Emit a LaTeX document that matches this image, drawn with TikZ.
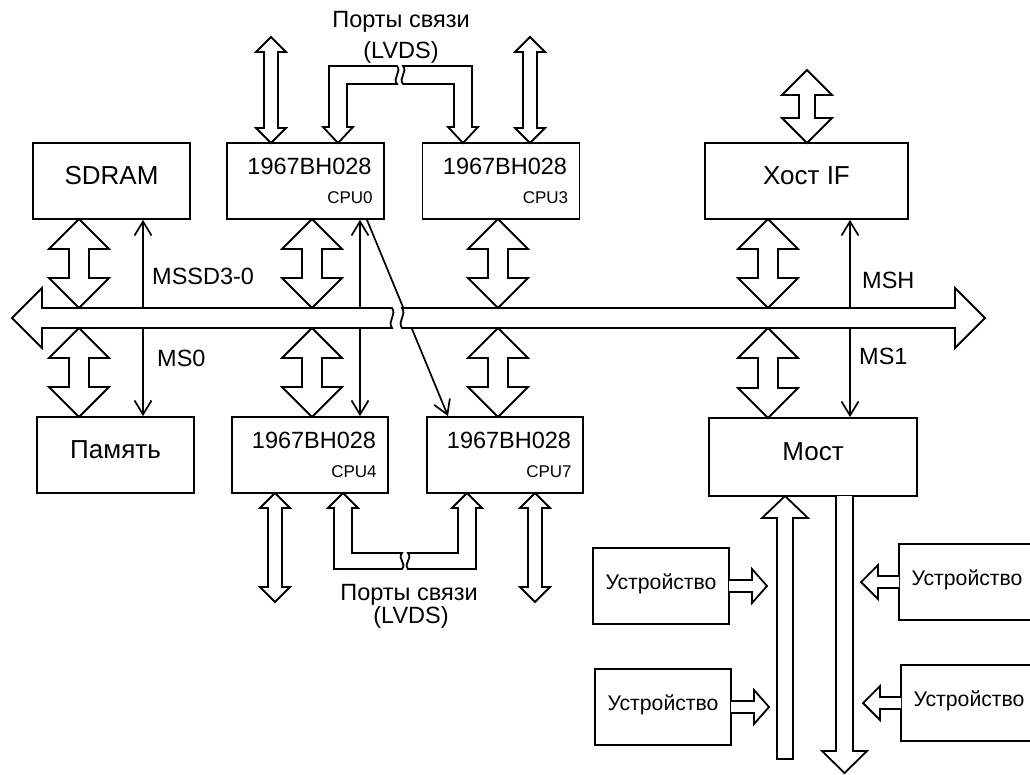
\documentclass[tikz,border=0pt]{standalone}
\usepackage{fontspec}
\setmainfont{Liberation Sans}
\usetikzlibrary{arrows.meta,calc}

\newcommand{\fbig}{\fontsize{26}{30}\selectfont}
\newcommand{\fmid}{\fontsize{23.5}{27}\selectfont}
\newcommand{\fcpu}{\fontsize{17}{20}\selectfont}
\newcommand{\fdev}{\fontsize{21.2}{24}\selectfont}

% hollow double arrow: x, top tip, bottom tip, head, shaft half
\newcommand{\dbl}[5]{%
  \draw[fat] (#1,#2) -- ++(#4,#4) -- ++(-#4+#5,0) -- (#1+#5,#3-#4) -- ++(#4-#5,0)
    -- (#1,#3) -- ++(-#4,-#4) -- ++(#4-#5,0) -- (#1-#5,#2+#4) -- ++(-#4+#5,0) -- cycle;}

\tikzset{
  box/.style={draw, line width=1.8pt, inner sep=0pt, minimum width=157pt,
    minimum height=76pt, text height=0.72em, text depth=0pt, font=\fbig},
  devbox/.style={box, minimum width=136pt, font=\fdev},
  fat/.style={draw, fill=white, line width=1.8pt, line join=miter},
  barb/.tip={Straight Barb[length=14pt,width=17pt]},
  link/.style={line width=1.7pt, -barb},
  lab/.style={inner sep=0pt, font=\fmid},
}

\begin{document}
\begin{tikzpicture}[x=1pt,y=-1pt]
    \useasboundingbox (0,0) rectangle (1030,774);
    \clip (0,0) rectangle (1030,774);

    % blocks
    \node[box] (sdram) at (111.5,181) {SDRAM};
    \node[box] (cpu0) at (305.5,181) {};
    \node[box] (cpu3) at (501,181) {};
    \node[box, minimum width=203pt] (host) at (806.5,181) {Хост IF};
    \node[box] (mem) at (115.5,455) {Память};
    \node[box, minimum width=156pt] (cpu4) at (310,455) {};
    \node[box, minimum width=156pt] (cpu7) at (505,455) {};
    \node[box, minimum width=208pt, minimum height=78pt] (bridge) at (813,457) {Мост};
    \node[devbox] (dev1) at (661,586) {Устройство};
    \node[devbox] (dev2) at (663,707) {Устройство};
    \node[devbox] (dev3) at (967,582) {Устройство};
    \node[devbox] (dev4) at (969,703) {Устройство};

    \foreach \c/\n in {cpu0/0,cpu3/3,cpu4/4,cpu7/7} {
        \node[anchor=base, font=\fmid, inner sep=0pt] at ($(\c.north)+(4,32)$) {1967BH028};
        \node[anchor=base east, font=\fcpu, inner sep=0pt] at ($(\c.south east)+(-12,-16)$) {CPU\n};
    }

    % select lines
    \coordinate (bt) at (0,308);
    \coordinate (bb) at (0,328);
    \coordinate (xa) at (143,0);
    \coordinate (xb) at (360,0);
    \coordinate (xc) at (367,0);
    \coordinate (xd) at (448,0);
    \coordinate (xe) at (850,0);
    \draw[link] (xa |- bt) -- (xa |- sdram.south);
    \draw[link] (xa |- bb) -- (xa |- mem.north);
    \draw[link, barb-barb] (xb |- cpu0.south) -- (xb |- cpu4.north);
    \draw[link] (xc |- cpu0.south) -- (xd |- cpu7.north);
    \draw[link] (xe |- bt) -- (xe |- host.south);
    \draw[link] (xe |- bb) -- (xe |- bridge.north);

    % bus
    \draw[fat] (12,318) -- (42,288) -- (42,308) -- (392,308)
        .. controls (397,315) and (387,321) .. (392,328) -- (42,328) -- (42,348) -- cycle;
    \draw[fat] (402,308) -- (955,308) -- (955,288) -- (985,318) -- (955,348) -- (955,328)
        -- (402,328) .. controls (397,321) and (407,315) .. (402,308) -- cycle;

    \node[lab, anchor=west] at (152,276) {MSSD3-0};
    \node[lab, anchor=west] at (157,358.5) {MS0};
    \node[lab, anchor=west] at (862,280) {MSH};
    \node[lab, anchor=west] at (859,356.5) {MS1};

    % bus taps
    \foreach \x in {79,312,498} {
        \dbl{\x}{219}{308}{30}{10}
        \dbl{\x}{328}{417}{30}{10}
    }
    \dbl{768}{219}{308}{30}{10}
    \dbl{768}{328}{418}{30}{10}
    \dbl{807}{70}{143}{25}{8}

    % external ports
    \dbl{271}{37}{143}{15}{7}
    \dbl{530}{37}{143}{15}{7}
    \dbl{275}{493}{602}{15}{7}
    \dbl{535}{493}{602}{15}{7}

    % link ports, top
    \draw[fat] (397,66) -- (329,66) -- (329,127) -- (323,127) -- (338,143) -- (353,127)
        -- (347,127) -- (347,84) -- (397,84) .. controls (392,78) and (402,72) .. (397,66) -- cycle;
    \draw[fat] (403,66) -- (472,66) -- (472,127) -- (478,127) -- (463,143) -- (448,127)
        -- (454,127) -- (454,84) -- (403,84) .. controls (398,78) and (408,72) .. (403,66) -- cycle;
    \node[lab, anchor=base] at (401,27) {Порты связи};
    \node[lab, anchor=base] at (401,58) {(LVDS)};

    % link ports, bottom
    \draw[fat] (402,569) -- (334,569) -- (334,508) -- (328,508) -- (343,493) -- (358,508)
        -- (352,508) -- (352,553) -- (402,553) .. controls (397,559) and (407,563) .. (402,569) -- cycle;
    \draw[fat] (408,553) -- (458,553) -- (458,508) -- (452,508) -- (467,493) -- (482,508)
        -- (476,508) -- (476,569) -- (408,569) .. controls (403,563) and (413,559) .. (408,553) -- cycle;
    \node[lab, anchor=base] at (409,600) {Порты связи};
    \node[lab, anchor=base] at (411,623) {(LVDS)};

    % bridge side
    \draw[fat] (777,759) -- (777,518) -- (762,518) -- (785,496) -- (808,518) -- (793,518) -- (793,759) -- cycle;
    \draw[fat] (836,496) -- (836,751) -- (822,751) -- (844.5,773) -- (867,751) -- (853,751) -- (853,496);
    \draw[fat] (729,580) -- (752,580) -- (752,569) -- (767,586) -- (752,603) -- (752,592) -- (729,592);
    \draw[fat] (731,701) -- (754,701) -- (754,690) -- (769,707) -- (754,724) -- (754,713) -- (731,713);
    \draw[fat] (899,576) -- (878,576) -- (878,565) -- (861,582) -- (878,599) -- (878,588) -- (899,588);
    \draw[fat] (901,697) -- (880,697) -- (880,686) -- (863,703) -- (880,720) -- (880,709) -- (901,709);
\end{tikzpicture}
\end{document}
